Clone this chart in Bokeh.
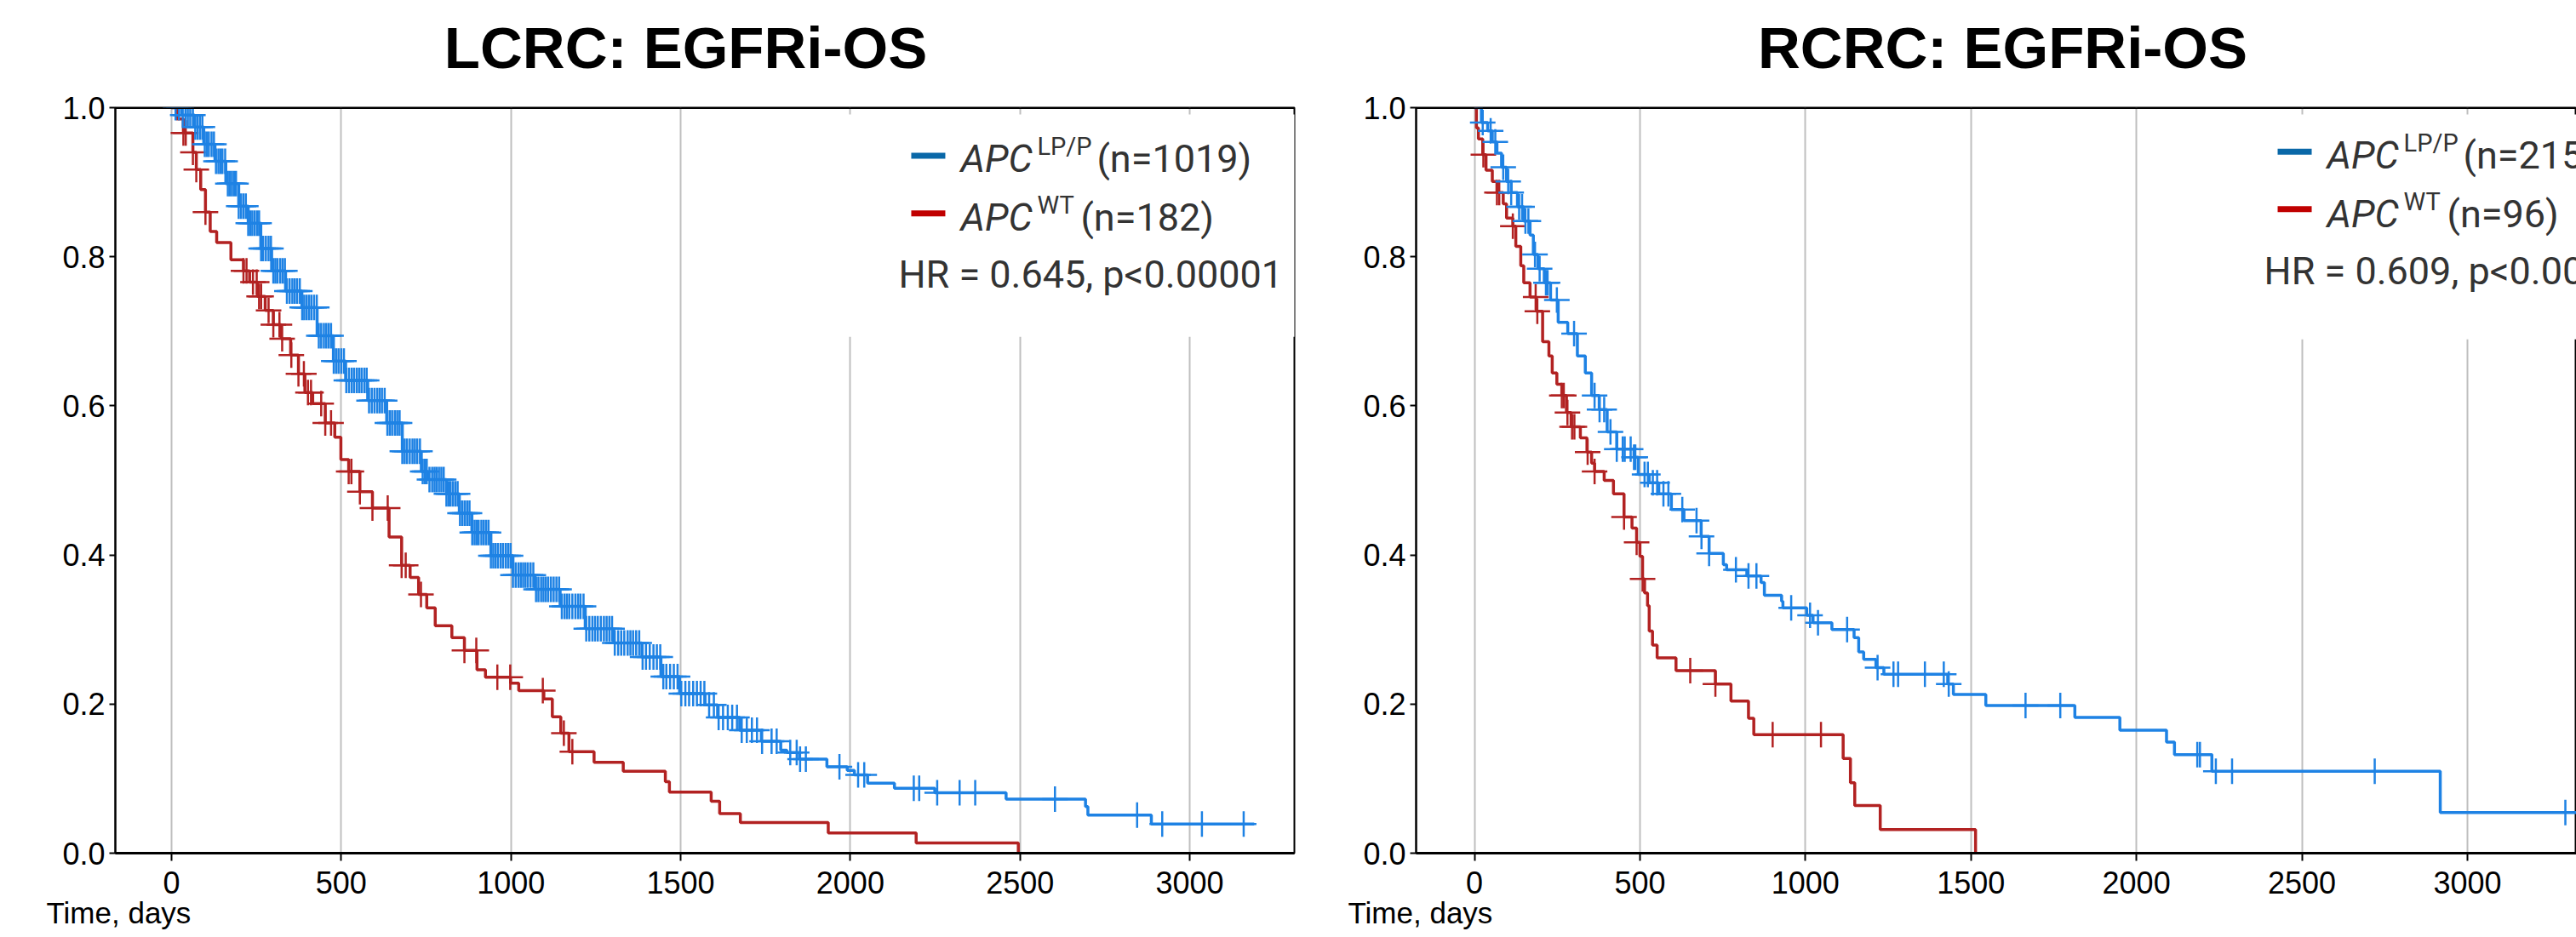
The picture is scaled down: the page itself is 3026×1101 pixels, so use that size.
import numpy as np
from bokeh.plotting import figure
from bokeh.models import Label, FixedTicker, PrintfTickFormatter, Range1d, Span, Title
from bokeh.layouts import row, column
from bokeh.embed import file_html
from bokeh.resources import INLINE

# ---------------- data ----------------
titles = ["LCRC: EGFRi-OS", "RCRC: EGFRi-OS"]
x_ticks = [0, 500, 1000, 1500, 2000, 2500, 3000]
y_ticks = [0.0, 0.2, 0.4, 0.6, 0.8, 1.0]
x_label = "Time, days"

# LCRC, APC LP/P (n=1019): step times and survival after each step
lcrc_lp_t = [0, 30, 68, 95, 128, 160, 198, 226, 263, 295, 336, 384, 429, 477, 513, 578,
             634, 680, 736, 755, 810, 848, 885, 941, 1006, 1071, 1145, 1219, 1303, 1386,
             1442, 1497, 1572, 1609, 1674, 1738, 1795, 1813, 1850, 1931, 1991, 2012, 2051,
             2130, 2249, 2459, 2693, 2700, 2887]
lcrc_lp_s = [1.0, 0.99, 0.974, 0.951, 0.928, 0.898, 0.868, 0.845, 0.811, 0.781, 0.754, 0.732,
             0.694, 0.660, 0.634, 0.607, 0.577, 0.539, 0.512, 0.501, 0.482, 0.456, 0.430,
             0.399, 0.373, 0.354, 0.331, 0.301, 0.282, 0.263, 0.237, 0.214, 0.199, 0.182,
             0.165, 0.150, 0.138, 0.135, 0.126, 0.116, 0.111, 0.105, 0.094, 0.087, 0.081,
             0.0726, 0.0624, 0.051, 0.039]
lcrc_lp_end = 3190
lcrc_lp_cens = [12, 22, 33, 41, 48, 55, 63, 70, 77, 84, 91, 98, 104, 110, 118, 125, 131, 138,
                144, 150, 158, 166, 172, 178, 184, 190, 198, 205, 212, 219, 226, 232, 238, 245,
                252, 258, 264, 270, 278, 286, 293, 300, 306, 312, 320, 327, 334, 340, 348, 356,
                363, 370, 378, 385, 391, 398, 405, 412, 420, 428, 434, 441, 449, 456, 463, 470,
                478, 485, 492, 500, 508, 515, 523, 531, 538, 546, 553, 560, 568, 575, 582, 590,
                598, 606, 613, 620, 628, 636, 643, 650, 658, 665, 672, 680, 687, 694, 702, 710,
                717, 724, 732, 740, 746, 752, 760, 768, 775, 781, 788, 795, 802, 810, 816, 822,
                829, 836, 843, 850, 857, 864, 871, 878, 886, 893, 899, 905, 913, 920, 927, 934,
                941, 948, 955, 962, 970, 977, 985, 992, 999, 1006, 1014, 1022, 1029, 1036, 1043,
                1050, 1058, 1066, 1074, 1081, 1089, 1096, 1103, 1110, 1118, 1126, 1134, 1142,
                1150, 1158, 1165, 1172, 1181, 1190, 1198, 1205, 1214, 1222, 1231, 1240, 1248,
                1256, 1265, 1274, 1282, 1290, 1298, 1306, 1316, 1325, 1334, 1344, 1352, 1360,
                1369, 1378, 1388, 1398, 1409, 1420, 1430, 1440, 1449, 1458, 1469, 1480, 1491,
                1502, 1514, 1525, 1537, 1548, 1559, 1570, 1584, 1598, 1612, 1625, 1639, 1652,
                1666, 1680, 1695, 1710, 1725, 1740, 1768, 1783, 1823, 1842, 1852, 1869, 1968,
                2023, 2041, 2187, 2203, 2256, 2322, 2368, 2603, 2845, 2919, 3036, 3159]

# LCRC, APC WT (n=182)
lcrc_wt_t = [0, 15, 35, 63, 73, 86, 100, 114, 133, 175, 212, 230, 253, 276, 300, 323, 351,
             374, 393, 416, 453, 481, 499, 522, 555, 592, 641, 678, 703, 728, 752, 777, 826,
             863, 900, 925, 999, 1023, 1097, 1122, 1147, 1171, 1245, 1331, 1455, 1467, 1590,
             1615, 1676, 1935, 2194, 2495]
lcrc_wt_s = [1.0, 0.985, 0.966, 0.94, 0.917, 0.890, 0.860, 0.834, 0.819, 0.796, 0.781, 0.766,
             0.747, 0.728, 0.709, 0.690, 0.668, 0.643, 0.618, 0.603, 0.577, 0.558, 0.528,
             0.512, 0.485, 0.463, 0.424, 0.386, 0.370, 0.347, 0.329, 0.305, 0.289, 0.272,
             0.246, 0.236, 0.228, 0.218, 0.207, 0.183, 0.161, 0.136, 0.122, 0.110, 0.096,
             0.082, 0.0695, 0.053, 0.041, 0.027, 0.0136, 0.0]
lcrc_wt_end = 2495
lcrc_wt_cens = [35, 42, 63, 73, 100, 212, 221, 240, 251, 258, 264, 286, 300, 318, 326, 353,
                374, 390, 402, 411, 441, 453, 470, 522, 530, 555, 592, 637, 678, 690, 735, 863,
                898, 960, 998, 1094, 1156, 1181]

# RCRC, APC LP/P (n=215)
rcrc_lp_t = [0, 21, 40, 54, 68, 82, 97, 111, 130, 149, 168, 178, 192, 211, 230, 253, 282, 311,
             335, 354, 377, 401, 430, 482, 495, 528, 557, 595, 633, 685, 709, 752, 762, 823,
             866, 876, 928, 932, 1004, 1023, 1080, 1147, 1161, 1176, 1213, 1237, 1430, 1447,
             1545, 1814, 1950, 2091, 2115, 2228, 2918]
rcrc_lp_s = [1.0, 0.980, 0.969, 0.954, 0.939, 0.920, 0.901, 0.886, 0.867, 0.848, 0.829, 0.803,
             0.784, 0.765, 0.742, 0.712, 0.697, 0.667, 0.644, 0.614, 0.595, 0.565, 0.542,
             0.531, 0.508, 0.497, 0.482, 0.461, 0.446, 0.425, 0.402, 0.387, 0.380, 0.372,
             0.363, 0.346, 0.338, 0.329, 0.319, 0.309, 0.300, 0.289, 0.270, 0.260, 0.249,
             0.240, 0.227, 0.213, 0.198, 0.182, 0.165, 0.149, 0.132, 0.110, 0.0544]
rcrc_lp_end = 3340
rcrc_lp_cens = [25, 49, 63, 87, 102, 111, 135, 144, 154, 163, 183, 197, 216, 221, 249, 301, 363,
                378, 392, 411, 430, 448, 454, 472, 482, 486, 514, 524, 539, 552, 571, 586, 628,
                671, 686, 709, 790, 828, 852, 957, 1014, 1038, 1126, 1218, 1266, 1280, 1361,
                1418, 1433, 1665, 1770, 2184, 2192, 2240, 2289, 2720, 3296]

# RCRC, APC WT (n=96)
rcrc_wt_t = [0, 6, 12, 25, 35, 54, 68, 87, 97, 116, 125, 140, 149, 168, 187, 206, 225, 235,
             249, 264, 278, 292, 320, 340, 354, 363, 392, 420, 452, 476, 490, 500, 508, 514,
             523, 528, 538, 552, 609, 728, 775, 828, 844, 1114, 1136, 1149, 1226, 1514]
rcrc_wt_s = [1.0, 0.973, 0.958, 0.937, 0.916, 0.901, 0.886, 0.871, 0.852, 0.841, 0.814, 0.788,
             0.765, 0.746, 0.727, 0.686, 0.667, 0.644, 0.629, 0.614, 0.591, 0.572, 0.557,
             0.538, 0.523, 0.512, 0.500, 0.482, 0.451, 0.436, 0.417, 0.398, 0.368, 0.349,
             0.332, 0.298, 0.279, 0.262, 0.245, 0.227, 0.204, 0.181, 0.159, 0.127, 0.0946,
             0.064, 0.0317, 0.0]
rcrc_wt_end = 1514
rcrc_wt_cens = [27, 68, 75, 116, 185, 190, 264, 270, 281, 295, 302, 342, 363, 452, 490, 508,
                652, 728, 901, 1047]

legend_n = [["1019", "182"], ["215", "96"]]
hr_text = ["HR = 0.645, p<0.00001", "HR = 0.609, p<0.001"]

# ---------------- styling ----------------
BLUE = "#1e82e4"
RED = "#b22222"
LEG_BLUE = "#0a68a8"
LEG_RED = "#c00000"
TXT = "#333333"
TICK_FONT = "Liberation Sans"
LEG_FONT = "Roboto"
HEADER_H = 100
MID = 0.345          # baseline-to-middle distance, in em
LEG_SIZE = 45
SUP_SIZE = 29


def surv_at(times, survs, t):
    times = np.asarray(times, dtype=float)
    survs = np.asarray(survs, dtype=float)
    idx = np.searchsorted(times, np.asarray(t, dtype=float), side="right") - 1
    return survs[idx]


def make_panel(xr, width, borders, frame, curves, xlabel_offset, lay, n_texts, hr):
    bl, br, bt, bb = borders
    x_zero, px_per_day, y_bottom, frame_h = frame

    def dx(px):
        return (px - x_zero) / px_per_day

    def dy(py):
        return (y_bottom - py) / frame_h

    p = figure(width=width, height=1101 - HEADER_H, x_range=Range1d(*xr),
               y_range=Range1d(0, 1), output_backend="svg", toolbar_location=None,
               min_border_left=bl, min_border_right=br,
               min_border_top=bt, min_border_bottom=bb)
    p.background_fill_color = "white"
    p.border_fill_color = "white"
    p.outline_line_color = "black"
    p.outline_line_width = 2
    p.ygrid.visible = False
    p.xgrid.grid_line_color = "#bfbfbf"
    p.xgrid.grid_line_width = 2
    p.xgrid.ticker = FixedTicker(ticks=x_ticks)

    p.xaxis.ticker = FixedTicker(ticks=x_ticks)
    p.yaxis.ticker = FixedTicker(ticks=y_ticks)
    p.yaxis.formatter = PrintfTickFormatter(format="%.1f")
    for ax in (p.xaxis, p.yaxis):
        ax.major_label_text_font = TICK_FONT
        ax.major_label_text_font_size = "36px"
        ax.major_label_text_color = "black"
        ax.axis_line_color = "black"
        ax.major_tick_line_color = "black"
        ax.major_tick_line_width = 2
        ax.major_tick_in = 0
        ax.minor_tick_line_color = None
    p.xaxis.axis_line_width = 3
    p.yaxis.axis_line_width = 2
    p.xaxis.major_tick_out = 9
    p.yaxis.major_tick_out = 7
    p.xaxis.major_label_standoff = 12
    p.yaxis.major_label_standoff = 5

    p.add_layout(Span(location=1.0, dimension="width", line_color="black", line_width=3))

    # x label, left-aligned under the axis
    p.add_layout(Title(text=x_label, align="left", offset=xlabel_offset, standoff=-3,
                       text_font=TICK_FONT, text_font_size="35px", text_font_style="normal",
                       text_color="black"), "below")

    # white legend box hiding the grid lines
    bx_left, b_top, b_bottom = lay["box"]
    p.quad(left=[dx(bx_left)], right=[xr[1] + 500], top=[dy(b_top)], bottom=[dy(b_bottom)],
           fill_color="white", line_color=None)

    for (tt, ss, end, cens, col) in curves:
        xs = list(tt) + [end]
        ys = list(ss) + [ss[-1]]
        p.step(xs, ys, mode="after", line_color=col, line_width=3.5)
        p.scatter(cens, surv_at(tt, ss, cens), marker="cross", size=30,
                  line_color=col, line_width=2.5)

    # legend (pixel layout converted to data units)
    (bar0, bar1), bar_y1, bar_y2 = lay["bars"]
    p.segment(x0=[dx(bar0)] * 2, x1=[dx(bar1)] * 2, y0=[dy(bar_y1), dy(bar_y2)],
              y1=[dy(bar_y1), dy(bar_y2)], line_color=[LEG_BLUE, LEG_RED], line_width=7)

    def put(x_px, base_px, text, size, style="normal"):
        p.add_layout(Label(x=dx(x_px), y=dy(base_px - MID * size), text=text,
                           text_font=LEG_FONT, text_font_style=style,
                           text_font_size=f"{size}px", text_color=TXT,
                           text_align="left", text_baseline="middle"))

    apc_x, sup_x, n_x1, n_x2 = lay["tx"]
    base1, sup1, base2, sup2, hr_x, hr_base = lay["ty"]
    put(apc_x, base1, "APC", LEG_SIZE, "italic")
    put(sup_x, sup1, "LP/P", SUP_SIZE)
    put(n_x1, base1, "(n=" + n_texts[0] + ")", LEG_SIZE)
    put(apc_x, base2, "APC", LEG_SIZE, "italic")
    put(sup_x, sup2, "WT", SUP_SIZE)
    put(n_x2, base2, "(n=" + n_texts[1] + ")", LEG_SIZE)
    put(hr_x, hr_base, hr, LEG_SIZE)
    return p


# header strip holding the two panel titles (pixel coordinates, y measured from top)
header = figure(width=3026, height=HEADER_H, x_range=Range1d(0, 3026),
                y_range=Range1d(HEADER_H, 0), output_backend="svg", toolbar_location=None,
                x_axis_type=None, y_axis_type=None, min_border=0)
header.outline_line_color = None
header.grid.visible = False
header.background_fill_color = "white"
header.border_fill_color = "white"
for tx, ttl in zip([805, 2352], titles):
    header.add_layout(Label(x=tx, y=80 - MID * 69, text=ttl, text_font="Liberation Sans",
                            text_font_style="bold", text_font_size="69px", text_color="black",
                            text_align="center", text_baseline="middle"))

# frame tops wanted at 120 (left) and 126 (right) px from the page top
left = make_panel(
    (-165.5, 3308.4), 1540, (135, 20, 120 - HEADER_H, 1101 - 1002),
    (201, 0.3987, 1002, 882),
    [(lcrc_wt_t, lcrc_wt_s, lcrc_wt_end, lcrc_wt_cens, RED),
     (lcrc_lp_t, lcrc_lp_s, lcrc_lp_end, lcrc_lp_cens, BLUE)],
    -81,
    {"box": (985, 128, 391),
     "bars": ((1070, 1110), 177, 245),
     "tx": (1128, 1218, 1288, 1269),
     "ty": (196, 176, 265, 245, 1055, 333)},
    legend_n[0], hr_text[0])

right = make_panel(
    (-176.2, 3329.4), 1486, (123, 0, 126 - HEADER_H, 1101 - 1008),
    (1731.5, 0.3888, 1008, 882),
    [(rcrc_wt_t, rcrc_wt_s, rcrc_wt_end, rcrc_wt_cens, RED),
     (rcrc_lp_t, rcrc_lp_s, rcrc_lp_end, rcrc_lp_cens, BLUE)],
    -80,
    {"box": (2590, 134, 400),
     "bars": ((2675, 2715), 178, 246),
     "tx": (2733, 2823, 2893, 2874),
     "ty": (198, 178, 267, 247, 2659, 335)},
    legend_n[1], hr_text[1])

layout = column(header, row(left, right))
open("out.html", "w").write(file_html(layout, INLINE))
